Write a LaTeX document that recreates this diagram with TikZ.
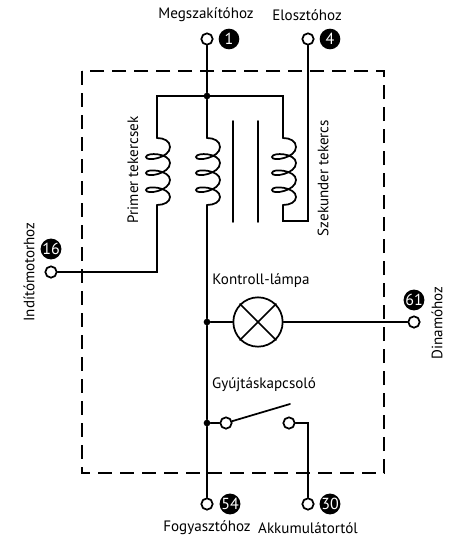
\documentclass[tikz,border=0pt]{standalone}
\usepackage{fontspec}
\setmainfont{PT Sans}
\tikzset{
  wire/.style={line width=1.3pt, line cap=round, line join=miter},
  box-dash/.style={line width=1.4pt, dash pattern=on 10.5pt off 6pt},
  terminal/.style={circle, draw=black, fill=white, line width=1.3pt, minimum size=8.5pt, inner sep=0pt},
  junction/.style={circle, fill=black, minimum size=5pt, inner sep=0pt},
  badge/.style={circle, fill=black, text=white, minimum size=15.5pt, inner sep=0pt, font=\fontsize{12}{12}\selectfont},
  label-text/.style={font=\fontsize{11.3}{13}\selectfont, inner sep=0pt},
  lamp-ring/.style={circle, draw=black, line width=1.3pt, minimum size=37pt, inner sep=0pt}
}
% one coil, hanging from the given top point
\newcommand{\coilwire}[1]{
  \draw[wire, shift={(#1)}] (0,0)
    .. controls (7,0) and (13,3) .. (13,9)
    .. controls (13,20) and (-11,24) .. (-11,19)
    .. controls (-11,14) and (13,15) .. (13,25)
    .. controls (13,36) and (-11,40) .. (-11,35)
    .. controls (-11,30) and (13,32) .. (13,42)
    .. controls (13,53) and (-11,57) .. (-11,52)
    .. controls (-11,47) and (13,49) .. (13,59)
    .. controls (13,64) and (7,67) .. (0,67);
}

\begin{document}
\begin{tikzpicture}[x=0.75pt, y=-0.75pt]
  \useasboundingbox (0,0) rectangle (452,536);
  % Dashed housing
  \draw[box-dash] (82,71) rectangle (384,473);

  % Terminals and their numbers
  \node[terminal] (t1) at (207,39) {};
  \node[terminal] (t4) at (308,39) {};
  \node[terminal] (t16) at (51,272) {};
  \node[terminal] (t61) at (414,322) {};
  \node[terminal] (t54) at (207,504) {};
  \node[terminal] (t30) at (308,504) {};
  \node[badge] (n1) at (229,39) {1};
  \node[badge] (n4) at (330,39) {4};
  \node[badge] (n16) at (51,249) {16};
  \node[badge] (n61) at (414,300) {61};
  \node[badge] (n54) at (230,504) {54};
  \node[badge] (n30) at (330,504) {30};

  % Junctions, lamp, switch contacts
  \node[junction] (jtop) at (207,96) {};
  \node[junction] (jlamp) at (207,322) {};
  \node[junction] (jswitch) at (207,423) {};
  \node[lamp-ring] (lamp) at (258,322) {};
  \node[terminal] (swa) at (226,423) {};
  \node[terminal] (swb) at (289,423) {};
  \coordinate (swarm) at (290,404);

  % Coil end points
  \coordinate (pritop) at (157,138);
  \coordinate (pribot) at (157,205);
  \coordinate (midtop) at (207,138);
  \coordinate (midbot) at (207,205);
  \coordinate (sectop) at (283,138);
  \coordinate (secbot) at (283,205);
  \coordinate (pribus) at (157,96);
  \coordinate (secbus) at (283,96);

  % Coils
  \coilwire{pritop}
  \coilwire{midtop}
  \coilwire{sectop}

  % Core
  \draw[wire] (233,121) -- (233,222);
  \draw[wire] (258,121) -- (258,222);

  % Wiring
  \draw[wire] (t1) -- (jtop) -- (midtop);
  \draw[wire] (midbot) -- (jlamp) -- (jswitch) -- (t54);
  \draw[wire] (pritop) -- (pribus) -- (secbus) -- (sectop);
  \draw[wire] (pribot) |- (t16);
  \draw[wire] (secbot) |- (308,221) -- (t4);
  \draw[wire] (jlamp) -- (lamp);
  \draw[wire] (lamp) -- (t61);
  \draw[wire] (lamp.north west) -- (lamp.south east);
  \draw[wire] (lamp.north east) -- (lamp.south west);
  \draw[wire] (jswitch) -- (swa);
  \draw[wire] (swa) -- (swarm);
  \draw[wire] (swb) -| (t30);

  % Labels
  \node[label-text] (lt1) at (206,15) {Megszakítóhoz};
  \node[label-text] (lt4) at (307,15) {Elosztóhoz};
  \node[label-text] (lt54) at (207,528) {Fogyasztóhoz};
  \node[label-text] (lt30) at (308,528) {Akkumulátortól};
  \node[label-text] (llamp) at (261,281) {Kontroll-lámpa};
  \node[label-text] (lswitch) at (264,385) {Gyújtáskapcsoló};
  \node[label-text, rotate=90] (lpri) at (133,170) {Primer tekercsek};
  \node[label-text, rotate=90] (lsec) at (323,178) {Szekunder tekercs};
  \node[label-text, rotate=90] (lt16) at (29,272) {Indítómotorhoz};
  \node[label-text, rotate=90] (lt61) at (437,323) {Dinamóhoz};
\end{tikzpicture}
\end{document}
